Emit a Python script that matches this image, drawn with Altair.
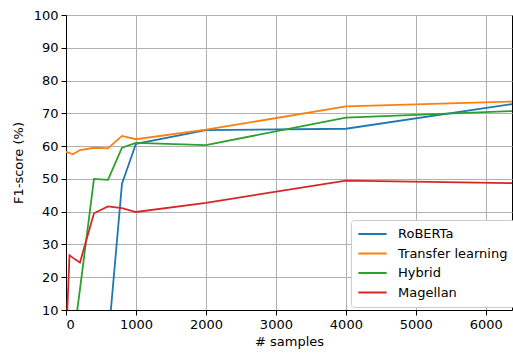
import altair as alt
import pandas as pd

samples = [0, 50, 100, 200, 400, 600, 800, 1000, 2000, 4000, 6374]
roberta = [0, 0, 0, 0, 0, 0, 48.5, 60.7, 64.9, 65.3, 72.8]
transfer = [58.3, 57.9, 57.5, 58.8, 59.5, 59.3, 63.1, 62.1, 65.0, 72.1, 73.6]
hybrid = [0, 0, 0, 16.4, 50.0, 49.7, 59.5, 61.0, 60.3, 68.7, 70.7]
magellan = [0, 26.7, 25.9, 24.5, 39.5, 41.6, 41.1, 39.9, 42.7, 49.5, 48.7]

series = ["RoBERTa", "Transfer learning", "Hybrid", "Magellan"]
colors = ["#1f77b4", "#ff7f0e", "#2ca02c", "#d62728"]

rows = []
for name, vals in zip(series, [roberta, transfer, hybrid, magellan]):
    for i, (x, y) in enumerate(zip(samples, vals)):
        rows.append({"samples": x, "f1": y, "method": name, "order": i})
df = pd.DataFrame(rows)

font = "DejaVu Sans"

chart = alt.Chart(df).mark_line(clip=True, strokeWidth=1.8).encode(
    x=alt.X("samples:Q", title="# samples",
            scale=alt.Scale(domain=[0, 6374], nice=False, zero=False),
            axis=alt.Axis(values=[0, 1000, 2000, 3000, 4000, 5000, 6000], format="d")),
    y=alt.Y("f1:Q", title="F1-score (%)",
            scale=alt.Scale(domain=[10, 100], nice=False, zero=False),
            axis=alt.Axis(values=list(range(10, 101, 10)))),
    color=alt.Color("method:N", scale=alt.Scale(domain=series, range=colors),
                    sort=series,
                    legend=alt.Legend(title=None, orient="none", legendX=285, legendY=205,
                                      symbolType="stroke", symbolStrokeWidth=2,
                                      symbolSize=800, clipHeight=16,
                                      labelFontSize=13, labelFont=font,
                                      labelColor="black", labelOffset=10,
                                      strokeColor="#cccccc", fillColor="white",
                                      cornerRadius=3, padding=6, rowPadding=3.5)),
    order="order:Q",
).properties(
    width=446, height=295,
    autosize="none",
    background="white",
    padding={"left": 66, "top": 15, "right": 1, "bottom": 44},
).configure_axis(
    labelFont=font, labelFontSize=13, labelColor="black",
    titleFont=font, titleFontSize=13, titleColor="black", titleFontWeight="normal",
    gridColor="#b0b0b0", gridWidth=1, gridOpacity=1,
    domainColor="black", domainWidth=1, tickColor="black", tickSize=5,
    labelPadding=3,
).configure_axisY(titlePadding=8).configure_axisX(titlePadding=4).configure_view(
    stroke="black", strokeWidth=1
)

chart.save("out.html", embed_options={"renderer": "svg", "actions": False})
